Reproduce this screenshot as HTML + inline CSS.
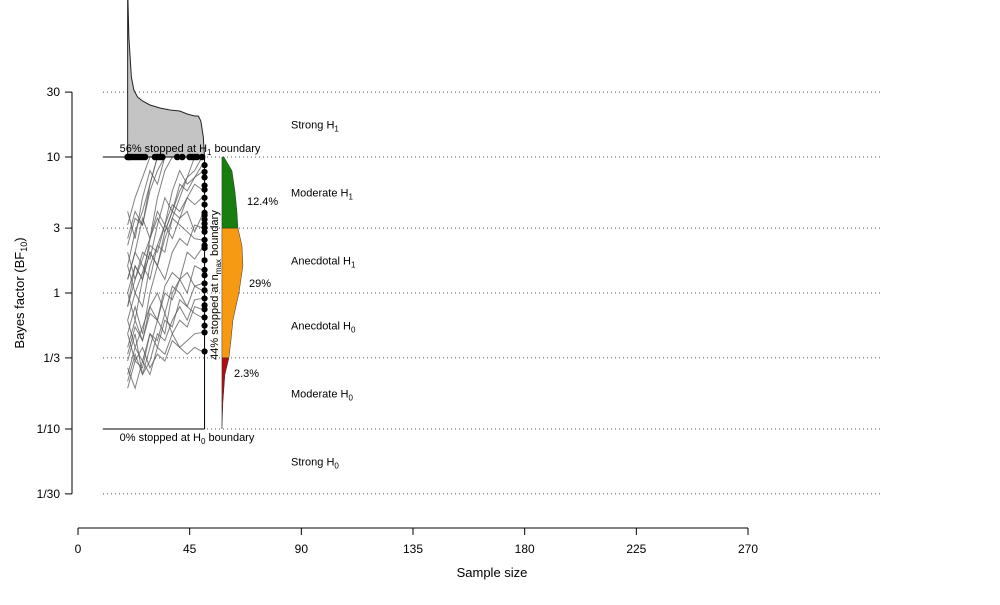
<!DOCTYPE html>
<html><head><meta charset="utf-8"><style>
body{margin:0;background:#fff;}
svg{font-family:"Liberation Sans",Arial,sans-serif;}
</style></head><body>
<svg id="chart" width="1000" height="600" viewBox="0 0 1000 600">
<defs><clipPath id="clip"><rect x="0" y="0" width="1000" height="600"/></clipPath></defs>
<g id="grid"></g>
<g id="traces"></g>
<g id="dens"></g>
<g id="dots"></g>
<g id="axes"></g>
<g id="labels"></g>
</svg>
<script>
const yTicks=[30,10,3,1,1/3,1/10,1/30];
const yTickLabels=["30","10","3","1","1/3","1/10","1/30"];
const xTicks=[0,45,90,135,180,225,270];
const evidenceLabels=["Strong H","Moderate H","Anecdotal H","Anecdotal H","Moderate H","Strong H"];
const evidenceSubs=["1","1","1","0","0","0"];
const nStart=20, nStep=3;
const traces=[
[0.2,0.45,0.6,0.8,1.0],
[0.1,0.3,0.55,0.4,0.7,0.9,1.0],
[-0.1,0.2,0.1,0.4,0.6,0.5,0.75,0.9,0.8,0.85,0.94],
[0.0,-0.2,0.1,0.3,0.2,0.45,0.6,0.55,0.7,0.65,0.7],
[-0.3,-0.1,-0.3,0.0,0.2,0.1,0.3,0.4,0.35,0.5,0.48],
[0.4,0.6,0.5,0.8,1.0],
[-0.5,-0.3,-0.6,-0.4,-0.2,-0.3,0.0,0.1,0.0,0.2,0.17],
[-0.7,-0.5,-0.55,-0.3,-0.4,-0.2,-0.25,-0.05,-0.1,0.05,0.02],
[0.5,0.7,0.85,1.0],
[-0.2,0.0,-0.1,0.2,0.35,0.3,0.55,0.7,0.85,0.9,1.0],
[0.1,0.3,0.2,0.1,0.35,0.5,0.4,0.55,0.6,0.45,0.57],
[-0.6,-0.4,-0.5,-0.3,-0.35,-0.15,-0.3,-0.2,-0.25,-0.1,-0.12],
[-0.4,-0.2,-0.35,-0.1,0.0,-0.15,0.05,0.0,-0.1,-0.15,-0.18],
[0.6,0.4,0.7,0.9,0.8,1.0],
[-0.1,0.1,0.3,0.25,0.5,0.7,0.6,0.8,0.75,0.85,0.89],
[-0.55,-0.7,-0.5,-0.6,-0.4,-0.45,-0.3,-0.4,-0.35,-0.3,-0.29],
[0.2,0.0,0.15,0.35,0.3,0.5,0.65,0.6,0.7,0.8,0.76],
[-0.3,-0.5,-0.4,-0.55,-0.45,-0.5,-0.35,-0.4,-0.45,-0.4,-0.43],
[0.3,0.1,0.25,0.4,0.55,0.45,0.6,0.75,0.85,1.0],
[-0.2,-0.4,-0.25,-0.1,-0.2,0.05,0.15,0.1,0.3,0.25,0.33],
[0.0,0.2,0.1,0.3,0.2,0.4,0.55,0.5,0.45,0.4,0.39],
[-0.45,-0.25,-0.35,-0.15,-0.2,0.0,-0.05,0.1,0.15,0.05,0.07],
[0.35,0.55,0.5,0.75,0.9,1.0],
[-0.65,-0.45,-0.6,-0.5,-0.3,-0.35,-0.2,-0.1,-0.2,-0.05,-0.04]
];
const h1StopN=[20,20.5,21,22,23,24,25,26,27,31,32,33,34,40,42,45,46,47,48,50];
const nmaxLogBF=[0.94,0.89,0.85,0.79,0.76,0.7,0.65,0.59,0.57,0.54,0.51,0.48,0.45,0.39,0.35,0.33,0.24,0.17,0.13,0.07,0.02,-0.04,-0.09,-0.12,-0.18,-0.24,-0.29,-0.43];
const topDensN=[20,20.5,21.5,22.5,24,26,29,33,37,41,44,47,48.5,49.5,50.5,51];
const topDensV=[1.7,1.2,0.8,0.67,0.6,0.56,0.52,0.49,0.47,0.46,0.43,0.41,0.41,0.36,0.2,0];
const sideLev=[1.0,0.9,0.75,0.6,0.477,0.35,0.2,0.0,-0.2,-0.35,-0.477,-0.6,-0.8,-1.0];
const sideW=[0.2,1.0,1.3,1.5,1.6,2.0,2.1,1.7,1.1,0.9,0.7,0.3,0.1,0.0];
const pctLabels=["12.4%","29%","2.3%"];

const NS="http://www.w3.org/2000/svg";
const X=n=>78+n*670/270;
const YL=l=>293-136*l;
const Y=v=>YL(Math.log10(v));
function mk(tag,attrs,parent){const e=document.createElementNS(NS,tag);for(const k in attrs)e.setAttribute(k,attrs[k]);parent.appendChild(e);return e;}
const g=id=>document.getElementById(id);

yTicks.forEach((t,i)=>{
 const l=mk('line',{x1:103,x2:880,y1:Y(t),y2:Y(t),stroke:'#555','stroke-width':1,'stroke-dasharray':'1 3'},g('grid'));
 
 
});
traces.forEach(tr=>{
 const pts=tr.map((v,i)=>X(nStart+i*nStep)+','+YL(v)).join(' ');
 const p=mk('polyline',{points:pts,fill:'none',stroke:'#555','stroke-opacity':0.75,'stroke-width':1},g('traces'));
 
 
});
const bx=X(51);
[[X(10),YL(1),bx,YL(1)],[X(10),YL(-1),bx,YL(-1)],[bx,YL(1),bx,YL(-1)]].forEach(c=>{
 const l=mk('line',{x1:c[0],y1:c[1],x2:c[2],y2:c[3],stroke:'#000','stroke-width':1},g('axes'));
 
 
});
{
 let d='M'+X(topDensN[0])+','+YL(1);
 topDensN.forEach((n,i)=>{d+=' L'+X(n)+','+(YL(1)-topDensV[i]*100);});
 d+=' L'+X(topDensN[topDensN.length-1])+','+YL(1)+' Z';
 const p=mk('path',{d:d,fill:'#c4c4c4',stroke:'#222','stroke-width':1,'clip-path':'url(#clip)'},g('dens'));
 
 
}
const sx=X(58);
function band(lo,hi,col,name){
 let pts=[];
 sideLev.forEach((l,i)=>{ if(l<=hi+1e-9&&l>=lo-1e-9) pts.push([l,sideW[i]]);});
 let d='M'+sx+','+YL(hi);
 pts.forEach(p=>{d+=' L'+(sx+p[1]*10)+','+YL(p[0]);});
 d+=' L'+sx+','+YL(lo)+' Z';
 const p=mk('path',{d:d,fill:col,stroke:'#333','stroke-width':0.5},g('dens'));
 
 
}
band(0.477,1.0,'#1a7d10','moderate-h1-band');
band(-0.477,0.477,'#f59a12','anecdotal-band');
band(-1.0,-0.477,'#b00e0e','moderate-h0-band');
h1StopN.forEach(n=>{const c=mk('circle',{cx:X(n),cy:YL(1),r:3.3,fill:'#000'},g('dots'));
 
 });
nmaxLogBF.forEach(v=>{const c=mk('circle',{cx:bx,cy:YL(v),r:3.1,fill:'#000'},g('dots'));
 
 });
const ax=g('axes');
{const l=mk('line',{x1:72,x2:72,y1:Y(30),y2:Y(1/30),stroke:'#000'},ax);
 
 }
yTicks.forEach((t,i)=>{
 mk('line',{x1:65,x2:72,y1:Y(t),y2:Y(t),stroke:'#000'},ax);
 const tx=mk('text',{x:60,y:Y(t)+4,'text-anchor':'end','font-size':12},ax);tx.textContent=yTickLabels[i];
 
 
});
{const l=mk('line',{x1:X(0),x2:X(270),y1:528,y2:528,stroke:'#000'},ax);
 
 }
xTicks.forEach(t=>{
 mk('line',{x1:X(t),x2:X(t),y1:528,y2:535,stroke:'#000'},ax);
 const tx=mk('text',{x:X(t),y:553,'text-anchor':'middle','font-size':12},ax);tx.textContent=t;
 
 
});
const lb=g('labels');
{const t=mk('text',{x:492,y:577,'text-anchor':'middle','font-size':13},lb);t.textContent='Sample size';
 
 }
{const t=mk('text',{x:24,y:293,'text-anchor':'middle','font-size':13,transform:'rotate(-90 24 293)'},lb);
 t.innerHTML='Bayes factor (BF<tspan font-size="9" dy="3">10</tspan><tspan dy="-3">)</tspan>';
 
 }
evidenceLabels.forEach((s,i)=>{
 const lvl=[1.238,0.739,0.239,-0.239,-0.739,-1.238][i];
 const t=mk('text',{x:291,y:YL(lvl)+4,'font-size':11},lb);
 t.innerHTML=s+'<tspan font-size="8" dy="3">'+evidenceSubs[i]+'</tspan>';
 
 
});
[[247,205],[249,287],[234,377]].forEach((p,i)=>{
 const t=mk('text',{x:p[0],y:p[1],'font-size':11},lb);t.textContent=pctLabels[i];
 
 
});
{const t=mk('text',{x:190,y:152,'text-anchor':'middle','font-size':11},lb);
 t.innerHTML='56% stopped at H<tspan font-size="8" dy="3">1</tspan><tspan dy="-3"> boundary</tspan>';
 
 }
{const t=mk('text',{x:187,y:441,'text-anchor':'middle','font-size':11},lb);
 t.innerHTML='0% stopped at H<tspan font-size="8" dy="3">0</tspan><tspan dy="-3"> boundary</tspan>';
 
 }
{const t=mk('text',{x:218,y:285,'text-anchor':'middle','font-size':11,transform:'rotate(-90 218 285)'},lb);
 t.innerHTML='44% stopped at n<tspan font-size="8" dy="3">max</tspan><tspan dy="-3"> boundary</tspan>';
 
 }
</script>
</body></html>
